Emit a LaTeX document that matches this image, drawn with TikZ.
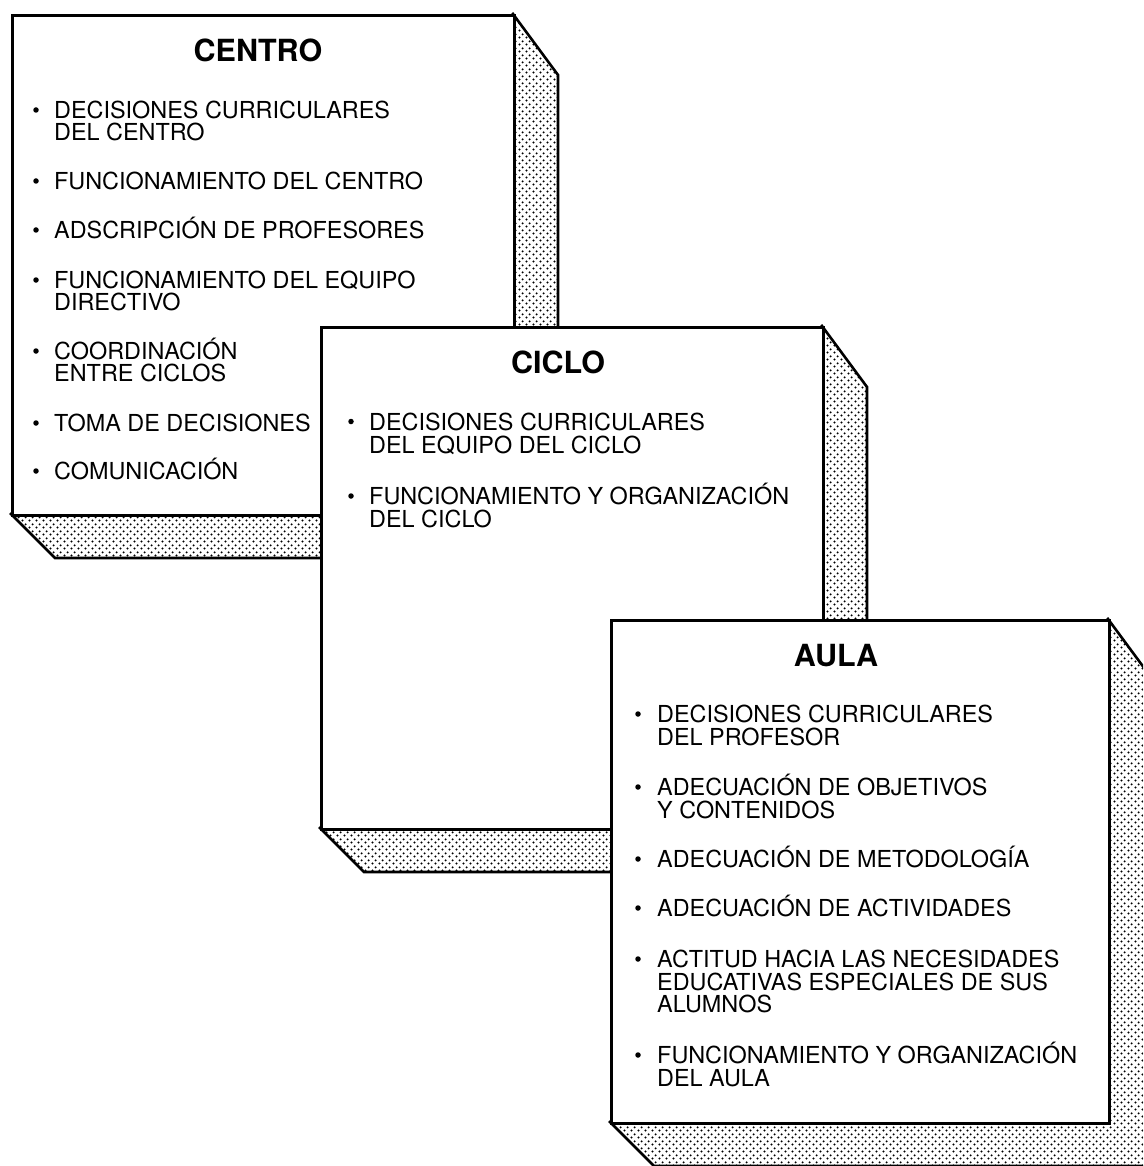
\documentclass[tikz,border=0pt]{standalone}
\usepackage{fontspec}
\setmainfont{TeX Gyre Heros}
\usetikzlibrary{patterns}
\pgfdeclarepatternformonly{sdots}{\pgfpointorigin}{\pgfpoint{7pt}{7pt}}{\pgfpoint{7pt}{7pt}}{%
  \pgfpathcircle{\pgfpoint{1.75pt}{1.75pt}}{1.25pt}%
  \pgfpathcircle{\pgfpoint{5.25pt}{5.25pt}}{1.25pt}%
  \pgfusepath{fill}}
\tikzset{
  front/.style={draw=black, fill=white, line width=2.8pt, inner sep=0pt, anchor=north west},
  shade3d/.style={draw=black, line width=2.6pt, pattern=sdots, line join=miter},
  ttl/.style={font=\fontsize{30.5}{32}\selectfont\bfseries, inner sep=0pt, anchor=base},
  itm/.style={font=\fontsize{23.4}{22.5}\selectfont, inner sep=0pt, anchor=base west},
  bul/.style={circle, fill=black, draw=none, inner sep=0pt, minimum size=5.5pt},
}
\begin{document}
\begin{tikzpicture}[x=1pt,y=-1pt]
\useasboundingbox (0,0) rectangle (1143,1166);
\clip (0,0) rectangle (1143,1166);
\fill[white] (0,0) rectangle (1143,1166);

% ---------- CENTRO ----------
\draw[shade3d] (513,14) -- (558,75) -- (558,558) -- (55,558) -- (11,514) -- cycle;
\node[front, minimum width=502pt, minimum height=500pt] (centro) at (11,14) {};
\node[ttl] (centroT) at (258,62) {CENTRO};
\node[bul] (cb1) at (36,110) {};
\node[itm] (c1a) at (54,118.4) {DECISIONES CURRICULARES};
\node[itm] (c1b) at (54,140.4) {DEL CENTRO};
\node[bul] (cb2) at (36,181) {};
\node[itm] (c2a) at (54,189.4) {FUNCIONAMIENTO DEL CENTRO};
\node[bul] (cb3) at (36,230) {};
\node[itm] (c3a) at (54,238.4) {ADSCRIPCIÓN DE PROFESORES};
\node[bul] (cb4) at (36,280) {};
\node[itm] (c4a) at (54,288.4) {FUNCIONAMIENTO DEL EQUIPO};
\node[itm] (c4b) at (54,310.4) {DIRECTIVO};
\node[bul] (cb5) at (36,351) {};
\node[itm] (c5a) at (54,359.4) {COORDINACIÓN};
\node[itm] (c5b) at (54,381.4) {ENTRE CICLOS};
\node[bul] (cb6) at (36,423) {};
\node[itm] (c6a) at (54,431.4) {TOMA DE DECISIONES};
\node[bul] (cb7) at (36,471) {};
\node[itm] (c7a) at (54,479.4) {COMUNICACIÓN};

% ---------- CICLO ----------
\draw[shade3d] (822,326) -- (867,387) -- (867,872) -- (364,872) -- (320,828) -- cycle;
\node[front, minimum width=502pt, minimum height=502pt] (ciclo) at (320,326) {};
\node[ttl] (cicloT) at (558,373) {CICLO};
\node[bul] (kb1) at (351,421.5) {};
\node[itm] (k1a) at (369,430) {DECISIONES CURRICULARES};
\node[itm] (k1b) at (369,453.4) {DEL EQUIPO DEL CICLO};
\node[bul] (kb2) at (351,496) {};
\node[itm] (k2a) at (369,504.4) {FUNCIONAMIENTO Y ORGANIZACIÓN};
\node[itm] (k2b) at (369,527.4) {DEL CICLO};

% ---------- AULA ----------
\draw[shade3d] (1108,619) -- (1153,680) -- (1153,1166) -- (654,1166) -- (610,1122) -- cycle;
\node[front, minimum width=498pt, minimum height=503pt] (aula) at (610,619) {};
\node[ttl] (aulaT) at (836,666) {AULA};
\node[bul] (ab1) at (638,714) {};
\node[itm] (a1a) at (657,722.4) {DECISIONES CURRICULARES};
\node[itm] (a1b) at (657,745.4) {DEL PROFESOR};
\node[bul] (ab2) at (638,787) {};
\node[itm] (a2a) at (657,795.4) {ADECUACIÓN DE OBJETIVOS};
\node[itm] (a2b) at (657,818.4) {Y CONTENIDOS};
\node[bul] (ab3) at (638,859) {};
\node[itm] (a3a) at (657,867.4) {ADECUACIÓN DE METODOLOGÍA};
\node[bul] (ab4) at (638,908) {};
\node[itm] (a4a) at (657,916.4) {ADECUACIÓN DE ACTIVIDADES};
\node[bul] (ab5) at (638,959) {};
\node[itm] (a5a) at (657,967.4) {ACTITUD HACIA LAS NECESIDADES};
\node[itm] (a5b) at (657,990.4) {EDUCATIVAS ESPECIALES DE SUS};
\node[itm] (a5c) at (657,1012.4) {ALUMNOS};
\node[bul] (ab6) at (638,1055) {};
\node[itm] (a6a) at (657,1063.4) {FUNCIONAMIENTO Y ORGANIZACIÓN};
\node[itm] (a6b) at (657,1086.4) {DEL AULA};
\end{tikzpicture}
\end{document}
